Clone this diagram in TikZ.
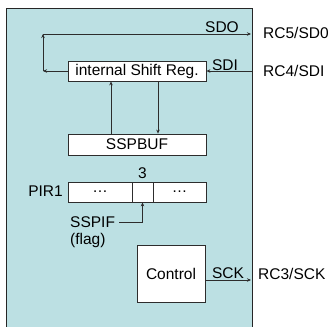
\documentclass[tikz,border=0pt]{standalone}
\usepackage{fontspec}
\setmainfont{Liberation Sans}
\usetikzlibrary{arrows.meta}
\definecolor{chipfill}{RGB}{188,224,227}
\definecolor{wire}{RGB}{45,45,45}

\begin{document}
\begin{tikzpicture}[x=1pt,y=-1pt,
  every node/.style={font=\fontsize{15.5}{19}\selectfont,inner sep=2pt},
  reg/.style={draw=wire,fill=white,line width=0.8pt,minimum height=20pt,inner sep=0pt},
  sig/.style={draw=wire,line width=0.8pt,-{Stealth[length=4pt,width=3.5pt]}}]
  \useasboundingbox (0,0) rectangle (333,327);
  \draw[draw=black!85,line width=0.9pt,fill=chipfill] (6,8) rectangle (252,340);

  % registers
  \node[reg,minimum width=138pt] (shiftreg) at (137,71) {internal Shift Reg.};
  \node[reg,minimum width=138pt,minimum height=21pt] (sspbuf) at (137,144.5) {SSPBUF};
  \node[reg,minimum width=64pt] (bitlo) at (100,192) {…};
  \node[reg,minimum width=21pt] (bit3) at (142.5,192) {};
  \node[reg,minimum width=53pt] (bithi) at (179.5,192) {…};
  \node[reg,minimum width=68pt,minimum height=57pt] (control) at (171,273.5) {Control};

  % pins
  \coordinate (looptop) at (43,34);
  \coordinate (loopbot) at (43,71);
  \coordinate (rc5) at (251,34);
  \coordinate (rc4) at (252,71);
  \coordinate (rc3) at (251,280);

  % data paths
  \draw[sig] (shiftreg.west) -- (loopbot);
  \draw[sig] (loopbot) -- (looptop);
  \draw[sig] (looptop) -- (rc5);
  \draw[sig] (rc4) -- (shiftreg.east);
  \draw[sig] ([xshift=-26pt]sspbuf.north) -- ([xshift=-26pt]shiftreg.south);
  \draw[sig] ([xshift=21pt]shiftreg.south) -- ([xshift=21pt]sspbuf.north);
  \draw[sig] (control.east |- rc3) -- (rc3);

  % labels
  \node (sdo) at (222,27) {SDO};
  \node (sdi) at (225,65) {SDI};
  \node (sck) at (228,273) {SCK};
  \node[anchor=west] (rc5pin) at (261,32.5) {RC5/SD0};
  \node[anchor=west] (rc4pin) at (261,70.5) {RC4/SDI};
  \node[anchor=west] (rc3pin) at (256,274) {RC3/SCK};
  \node[anchor=east] (pir1) at (65,191.5) {PIR1};
  \node (bitno) at (142.5,173) {3};
  \node[anchor=west] (sspif) at (68,222) {SSPIF};
  \node[anchor=west] (flag) at (68,240) {(flag)};
  \draw[sig] ([xshift=2pt]sspif.east) -| (bit3.south);
\end{tikzpicture}
\end{document}
